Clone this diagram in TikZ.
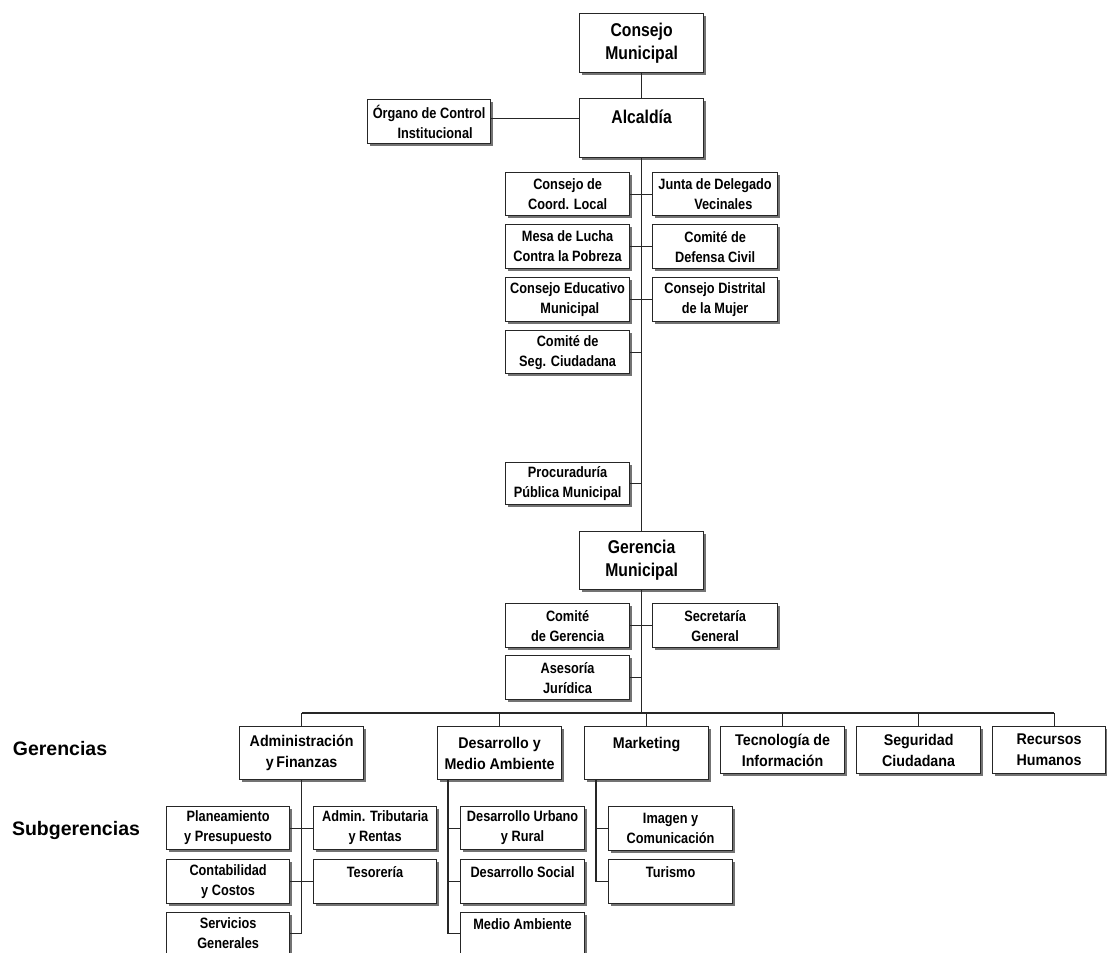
\documentclass[tikz,border=0pt]{standalone}
\usepackage{fontspec}
\setmainfont{Liberation Sans}
\newfontfamily\cajafont{Liberation Sans}[FakeStretch=0.85]
\newfontfamily\gerfont{Liberation Sans}[FakeStretch=0.92]
\usepackage{tikz}
\usetikzlibrary{positioning, shadows}

\tikzset{
  caja/.style={draw=black!85, line width=1.2pt, fill=white, inner sep=0pt,
    anchor=north west, align=center, minimum width=124pt, minimum height=44pt,
    drop shadow={shadow xshift=2.5pt, shadow yshift=-2.5pt, fill=black!55, opacity=1},
    font=\cajafont\bfseries\fontsize{15}{20}\selectfont},
  grande/.style={caja, minimum height=59pt, font=\cajafont\bfseries\fontsize{18.5}{23}\selectfont},
  gerencia/.style={caja, minimum height=53pt, font=\gerfont\bfseries\fontsize{15.5}{21}\selectfont},
  rotulo/.style={font=\bfseries\fontsize{19.5}{23}\selectfont},
  linea/.style={draw=black!85, line width=1.2pt}
}

\begin{document}
\begin{tikzpicture}[x=1pt, y=-1pt]
\useasboundingbox (0,0) rectangle (1107,952);
%
\node[grande] (cm)  at (579,13)  {Consejo\\Municipal};
\node[grande] (alc) at (579,98)  {Alcaldía\\~};
\node[caja, minimum width=123pt] (oci) at (367,99) {Órgano de Control\\\hspace*{0.8em}Institucional};
%
\node[caja, minimum height=43pt] (ccl) at (505,172) {Consejo de\\Coord. Local};
\node[caja, minimum height=43pt, minimum width=125pt] (jdv) at (652,172) {Junta de Delegado\\\hspace*{1.1em}Vecinales};
\node[caja] (mlp) at (505,224) {Mesa de Lucha\\Contra la Pobreza};
\node[caja, minimum width=125pt] (cdc) at (652,224) {Comité de\\Defensa Civil};
\node[caja] (cem) at (505,277) {Consejo Educativo\\\hspace*{0.3em}Municipal};
\node[caja, minimum width=125pt] (cdm) at (652,277) {Consejo Distrital\\de la Mujer};
\node[caja, minimum height=43pt] (csc) at (505,330) {Comité de\\Seg. Ciudadana};
\node[caja, minimum height=42pt] (ppm) at (505,462) {Procuraduría\\Pública Municipal};
%
\node[grande, minimum height=58pt] (gm) at (579,531) {Gerencia\\Municipal};
\node[caja] (cg) at (505,603) {Comité\\de Gerencia};
\node[caja, minimum width=125pt] (sg) at (652,603) {Secretaría\\General};
\node[caja] (aj) at (505,655) {Asesoría\\Jurídica};
%
\node[rotulo] (lger) at (60,749) {Gerencias};
\node[rotulo] (lsub) at (76,830) {Subgerencias};
%
\node[gerencia] (gaf) at (239,726) {Administración\\y\,Finanzas};
\node[gerencia] (gdm) at (437,726) {Desarrollo y\\Medio Ambiente};
\node[gerencia] (gmk) at (584,726) {Marketing\\~};
\node[gerencia, minimum height=47pt] (gti) at (720,726) {Tecnología de\\Información};
\node[gerencia, minimum height=47pt] (gsc) at (856,726) {Seguridad\\Ciudadana};
\node[gerencia, minimum height=47pt, minimum width=113pt] (grh) at (992,726) {Recursos\\Humanos};
%
\node[caja, minimum width=123pt, minimum height=43pt] (spp) at (166,806) {Planeamiento\\y Presupuesto};
\node[caja, minimum width=123pt, minimum height=43pt] (sat) at (313,806) {Admin. Tributaria\\y Rentas};
\node[caja, minimum width=123pt] (scc) at (166,859) {Contabilidad\\y Costos};
\node[caja, minimum width=123pt] (ste) at (313,859) {Tesorería\\~};
\node[caja, minimum width=123pt, minimum height=42pt] (ssg) at (166,912) {Servicios\\Generales};
\node[caja, minimum height=43pt] (sdu) at (460,806) {Desarrollo Urbano\\y Rural};
\node[caja] (sds) at (460,859) {Desarrollo Social\\~};
\node[caja, minimum height=42pt] (sma) at (460,912) {Medio Ambiente\\~};
\node[caja] (sic) at (608,806) {Imagen y\\Comunicación};
\node[caja] (stu) at (608,859) {Turismo\\~};
%
\coordinate (bus) at (0,713);
\coordinate (dmx) at ([xshift=11pt]gdm.south west);
\coordinate (mkx) at ([xshift=12pt]gmk.south west);
%
\begin{scope}[linea]
\draw (cm.south) -- (alc.north);
\draw ([yshift=3pt]oci.east) -- ([yshift=3pt]oci.east -| alc.west);
\draw (alc.south) -- (gm.north);
\draw (ccl.east) -- (jdv.west);
\draw (mlp.east) -- (cdc.west);
\draw (cem.east) -- (cdm.west);
\draw (csc.east) -- (csc.east -| alc.south);
\draw (ppm.east) -- (ppm.east -| gm.north);
\draw (cg.east) -- (sg.west);
\draw (aj.east) -- (aj.east -| gm.south);
\draw (gm.south) -- (gm.south |- bus);
\draw (gaf.north |- bus) -- ([xshift=5pt]grh.north |- bus);
\foreach \g in {gaf, gdm, gmk, gti, gsc} \draw (\g.north) -- (\g.north |- bus);
\draw ([xshift=5pt]grh.north) -- ([xshift=5pt]grh.north |- bus);
%
\draw (gaf.south) -- (gaf.south |- ssg.east) -- (ssg.east);
\draw (spp.east) -- (sat.west);
\draw (scc.east) -- (ste.west);
\draw (dmx) -- (dmx |- sma.west) -- (sma.west);
\draw (dmx |- sdu.west) -- (sdu.west);
\draw (dmx |- sds.west) -- (sds.west);
\draw (mkx) -- (mkx |- stu.west) -- (stu.west);
\draw (mkx |- sic.west) -- (sic.west);
\end{scope}
%
\end{tikzpicture}
\end{document}
